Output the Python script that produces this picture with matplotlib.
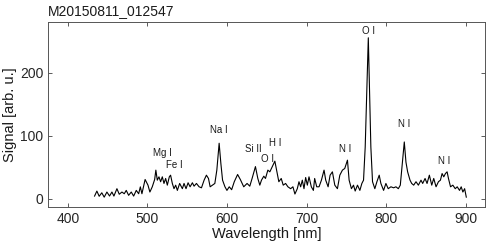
import matplotlib
matplotlib.use("Agg")
import matplotlib.pyplot as plt

wavelength = [433.5, 436.4, 439.3, 442.6, 445.6, 449.0, 452.3, 455.3, 457.8, 461.6, 464.5, 467.9,
              470.8, 473.3, 476.3, 479.6, 482.6, 485.9, 488.9, 491.0, 493.0, 497.0, 500.6, 503.0,
              506.0, 509.0, 510.5, 512.3, 514.4, 516.5, 518.6, 520.7, 522.8, 524.9, 527.4, 529.0,
              531.2, 533.3, 535.4, 537.5, 540.4, 543.8, 545.9, 548.4, 551.0, 553.5, 556.4, 558.5,
              561.5, 564.8, 567.8, 571.1, 574.0, 576.6, 578.7, 581.6, 584.6, 587.1, 590.0, 592.2,
              594.3, 597.3, 599.8, 602.7, 605.7, 609.0, 613.2, 616.6, 620.9, 625.1, 628.5, 631.4,
              635.6, 638.6, 641.1, 643.2, 646.1, 648.2, 651.2, 653.7, 656.6, 660.0, 663.0, 665.0,
              668.0, 670.5, 673.5, 676.4, 679.8, 682.7, 685.2, 688.2, 690.3, 692.4, 694.5, 696.6,
              698.7, 700.8, 702.9, 705.8, 708.4, 710.0, 712.6, 715.5, 718.5, 721.8, 723.9, 726.9,
              729.4, 732.3, 735.3, 738.6, 741.6, 744.9, 747.8, 751.2, 753.3, 756.2, 758.8, 760.9,
              763.8, 766.8, 769.3, 771.4, 773.5, 777.4, 780.6, 782.7, 785.6, 788.2, 791.1, 793.2,
              796.6, 799.5, 802.4, 805.8, 809.2, 812.1, 815.1, 817.6, 820.5, 822.6, 824.7, 826.8,
              829.8, 831.9, 834.4, 837.3, 840.3, 843.6, 845.7, 848.7, 851.2, 854.1, 857.1, 859.6,
              862.5, 865.5, 868.0, 870.1, 872.2, 874.3, 876.4, 878.1, 880.7, 883.6, 886.6, 889.1,
              892.0, 894.1, 896.2, 898.4, 900.5]
signal = [4.3, 12.2, 4.0, 9.5, 2.6, 10.7, 4.4, 10.7, 4.3, 16.0, 7.2, 10.7,
          8.0, 13.3, 5.5, 10.7, 4.3, 13.3, 8.0, 18.9, 8.0, 30.6, 21.6, 10.7,
          19.0, 30.6, 45.4, 29.5, 34.8, 27.0, 34.8, 24.3, 32.2, 21.6, 34.8, 37.4,
          24.3, 16.0, 21.6, 13.3, 24.3, 16.0, 24.3, 16.0, 25.4, 19.0, 25.4, 20.0,
          24.3, 19.0, 17.4, 29.5, 37.4, 32.2, 19.0, 21.6, 24.3, 45.4, 88.0, 55.6,
          29.5, 19.0, 13.3, 19.0, 14.4, 27.0, 38.5, 30.6, 19.0, 24.3, 20.0, 32.2,
          51.0, 32.2, 21.6, 29.5, 35.8, 32.2, 45.4, 42.7, 50.6, 59.6, 40.0, 27.0,
          32.2, 21.6, 24.3, 19.0, 16.0, 19.0, 7.5, 16.0, 27.0, 19.0, 29.5, 16.0,
          33.7, 21.6, 34.8, 19.0, 13.3, 32.2, 19.0, 19.0, 29.5, 45.4, 29.5, 19.0,
          37.4, 42.7, 21.6, 16.0, 37.4, 45.4, 48.0, 61.2, 29.5, 16.0, 21.6, 12.3,
          21.6, 13.3, 24.3, 29.5, 82.0, 255.0, 82.0, 27.0, 16.0, 27.0, 37.4, 24.3,
          13.3, 24.3, 16.0, 19.0, 17.4, 19.0, 16.0, 21.6, 61.0, 90.0, 58.0, 42.7,
          29.5, 24.3, 21.6, 27.0, 21.6, 29.5, 24.3, 32.2, 24.3, 37.4, 21.6, 32.2,
          19.0, 27.0, 29.5, 40.0, 34.8, 40.0, 42.7, 32.2, 19.0, 21.6, 16.0, 19.0,
          13.3, 19.0, 10.7, 16.0, 2.6]

line_labels = ["Mg I", "Fe I", "Na I", "Si II", "O I", "H I", "N I", "O I", "N I", "N I"]
label_x = [518.2, 533.7, 589.5, 633.5, 650.3, 659.9, 748.8, 777.4, 822.1, 872.5]
label_y = [73.3, 54.3, 108.5, 79.6, 63.8, 88.5, 79.6, 265.4, 118.0, 60.0]

xticks = [400, 500, 600, 700, 800, 900]
yticks = [0, 100, 200]

plt.rcParams['font.family'] = ['Liberation Sans', 'DejaVu Sans']
fig = plt.figure(figsize=(4.91, 2.45), dpi=100)
ax = fig.add_axes([48/491, 1-207/245, (485-48)/491, (207-22)/245])
ax.plot(wavelength, signal, color='black', lw=0.8)
for t, x, y in zip(line_labels, label_x, label_y):
    ax.text(x, y, t, ha='center', va='center', fontsize=7, color='#1a1a1a')
ax.set_xlim(375, 924)
ax.set_ylim(-13, 280)
ax.set_xticks(xticks)
ax.set_yticks(yticks)
ax.tick_params(direction='in', top=True, right=True, length=3, width=0.6,
               colors='#404040', labelsize=10, labelcolor='#262626')
for s in ax.spines.values():
    s.set_color('#555555')
    s.set_linewidth(0.7)
ax.set_xlabel('Wavelength [nm]', fontsize=10.5, color='#1a1a1a', labelpad=1)
ax.set_ylabel('Signal [arb. u.]', fontsize=10.5, color='#1a1a1a', labelpad=2)
ax.set_title('M20150811_012547', loc='left', fontsize=10, color='#1a1a1a', pad=5)
fig.savefig('out.png', dpi=100)
